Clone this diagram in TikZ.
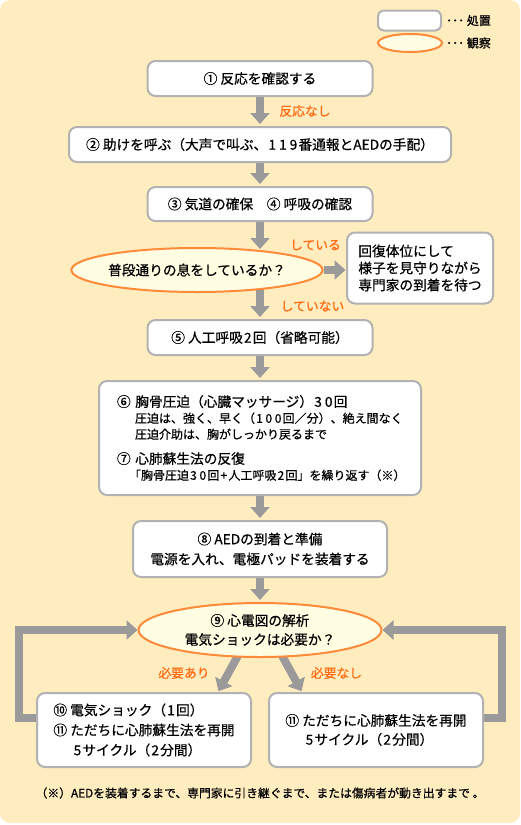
\documentclass[tikz,border=0pt]{standalone}
\usepackage{fontspec}
\newfontfamily\jpfont{Noto Sans CJK JP}[FakeBold=0.6]
\newcommand\digs[1]{\kern1.2pt{\addfontfeature{LetterSpace=22}#1}\kern1.2pt}
\usetikzlibrary{arrows.meta,calc,shapes.geometric,backgrounds}
\definecolor{paper}{HTML}{FFEDC0}
\definecolor{cream}{HTML}{FFFDE2}
\definecolor{rim}{HTML}{B2B2B2}
\definecolor{flowgray}{HTML}{9A9A9A}
\definecolor{ring}{HTML}{FF8A3A}
\definecolor{tagorange}{HTML}{FF6A12}
\tikzset{
  stepbox/.style={draw=rim, line width=2pt, fill=white, rounded corners=8pt, inner sep=0pt,
    align=center, font=\jpfont\fontsize{13.7}{20}\selectfont},
  checkoval/.style={ellipse, draw=ring, line width=2pt, fill=cream, inner sep=0pt,
    align=center, font=\jpfont\fontsize{13.7}{19}\selectfont},
  tagtext/.style={text=tagorange, inner sep=0pt, font=\jpfont\fontsize{12.8}{14}\selectfont},
  flow/.style={line width=8pt, draw=flowgray, -{Triangle[width=19pt,length=11pt]}, shorten >=2pt},
  feedback/.style={line width=8pt, draw=flowgray, -{Triangle[width=19pt,length=11pt]}},
}
\begin{document}
\begin{tikzpicture}[x=1pt,y=-1pt]
  \useasboundingbox (0,0) rectangle (520,825);
  % legend
  \node[stepbox, minimum width=63pt, minimum height=20pt, rounded corners=6pt] (keybox) at (409.5,20.5) {};
  \node[checkoval, minimum width=64pt, minimum height=18pt] (keyoval) at (410,43) {};
  \node[anchor=west, inner sep=0pt, font=\jpfont\fontsize{12}{14}\selectfont] (keyact) at (446,20.5) {･･･ 処置};
  \node[anchor=west, inner sep=0pt, font=\jpfont\fontsize{12}{14}\selectfont] (keyobs) at (446,43) {･･･ 観察};
  % steps
  \node[stepbox, minimum width=225pt, minimum height=35pt] (check) at (260,78.5) {① 反応を確認する};
  \node[stepbox, minimum width=382pt, minimum height=35pt] (call) at (260,144.5) {② 助けを呼ぶ（大声で叫ぶ、\digs{119}番通報とAEDの手配）};
  \node[stepbox, minimum width=225pt, minimum height=34pt] (airway) at (260,204) {③ 気道の確保　④ 呼吸の確認};
  \node[checkoval, minimum width=242pt, minimum height=44pt] (breath) at (197,270) {普段通りの息をしているか？};
  \node[stepbox, minimum width=146pt, minimum height=71pt, align=left,
    font=\jpfont\fontsize{13.7}{17}\selectfont] (recovery) at (420,268) {回復体位にして\\様子を見守りながら\\専門家の到着を待つ};
  \node[stepbox, minimum width=225pt, minimum height=35pt] (rescue) at (260,337.5) {⑤ 人工呼吸\digs{2}回（省略可能）};
  \node[stepbox, minimum width=322pt, minimum height=114pt, align=left, text width=286pt, inner xsep=18pt,
    font=\jpfont\fontsize{13.7}{16}\selectfont] (compress) at (260,438) {⑥ 胸骨圧迫（心臓マッサージ）\digs{30}回\\
    \hspace*{18pt}{\fontsize{12}{16}\selectfont 圧迫は、強く、早く（\digs{100}回／分）、絶え間なく}\\
    \hspace*{18pt}{\fontsize{12}{16}\selectfont 圧迫介助は、胸がしっかり戻るまで}\\[9pt]
    ⑦ 心肺蘇生法の反復\\
    \hspace*{12pt}{\fontsize{12}{16}\selectfont 「胸骨圧迫\digs{30}回\digs{+}人工呼吸\digs{2}回」を繰り返す（※）}};
  \node[stepbox, minimum width=254pt, minimum height=56pt] (aed) at (260,549) {⑧ AEDの到着と準備\\電源を入れ、電極パッドを装着する};
  \node[checkoval, minimum width=243pt, minimum height=54pt] (ecg) at (260,630) {⑨ 心電図の解析\\電気ショックは必要か？};
  \node[stepbox, minimum width=214pt, minimum height=74pt, align=left] (shock) at (144,730)
    {⑩ 電気ショック（\digs{1}回）\\⑪ ただちに心肺蘇生法を再開\\\hspace*{19pt}\digs{5}サイクル（\digs{2}分間）};
  \node[stepbox, minimum width=214pt, minimum height=74pt, align=left,
    font=\jpfont\fontsize{13.7}{19}\selectfont] (cpr) at (376,730)
    {⑪ ただちに心肺蘇生法を再開\\\hspace*{19pt}\digs{5}サイクル（\digs{2}分間）};
  % labels
  \node[tagtext] (nores) at (305,111) {反応なし};
  \node[tagtext] (yesbreath) at (315.5,245) {している};
  \node[tagtext] (nobreath) at (312.5,306) {していない};
  \node[tagtext] (needed) at (184,673) {必要あり};
  \node[tagtext] (notneeded) at (336.5,673) {必要なし};
  \node[inner sep=0pt, font=\jpfont\fontsize{11.8}{13}\selectfont] (note) at (260,793)
    {（※）AEDを装着するまで、専門家に引き継ぐまで、または傷病者が動き出すまで 。};
  \begin{scope}[on background layer]
    \fill[paper, rounded corners=10pt] (0,0) rectangle (520,823);
    \draw[flow] (check) -- (call);
    \draw[flow] (call) -- (airway);
    \draw[flow, shorten >=-2pt] (airway.south) -- (airway.south |- breath.north);
    \draw[flow, shorten >=0.5pt] (breath.east) -- (breath.east -| recovery.west);
    \draw[flow] (breath.center -| rescue.north) -- (rescue.north);
    \draw[flow] (rescue) -- (compress);
    \draw[flow] (compress) -- (aed);
    \draw[flow] (aed) -- (ecg);
    \draw[flow, shorten >=1pt] ($(ecg.south)+(-20,-6)$) -- ($(shock.north)+(74,0)$);
    \draw[flow, shorten >=1pt] ($(ecg.south)+(20,-6)$) -- ($(cpr.north)+(-74,0)$);
    \draw[feedback] ($(shock.west)+(0,-12)$) -| ($(ecg.west)+(-119,0)$) -- (ecg.west);
    \draw[feedback] ($(cpr.east)+(0,-12)$) -| ($(ecg.east)+(119,0)$) -- (ecg.east);
  \end{scope}
\end{tikzpicture}
\end{document}
